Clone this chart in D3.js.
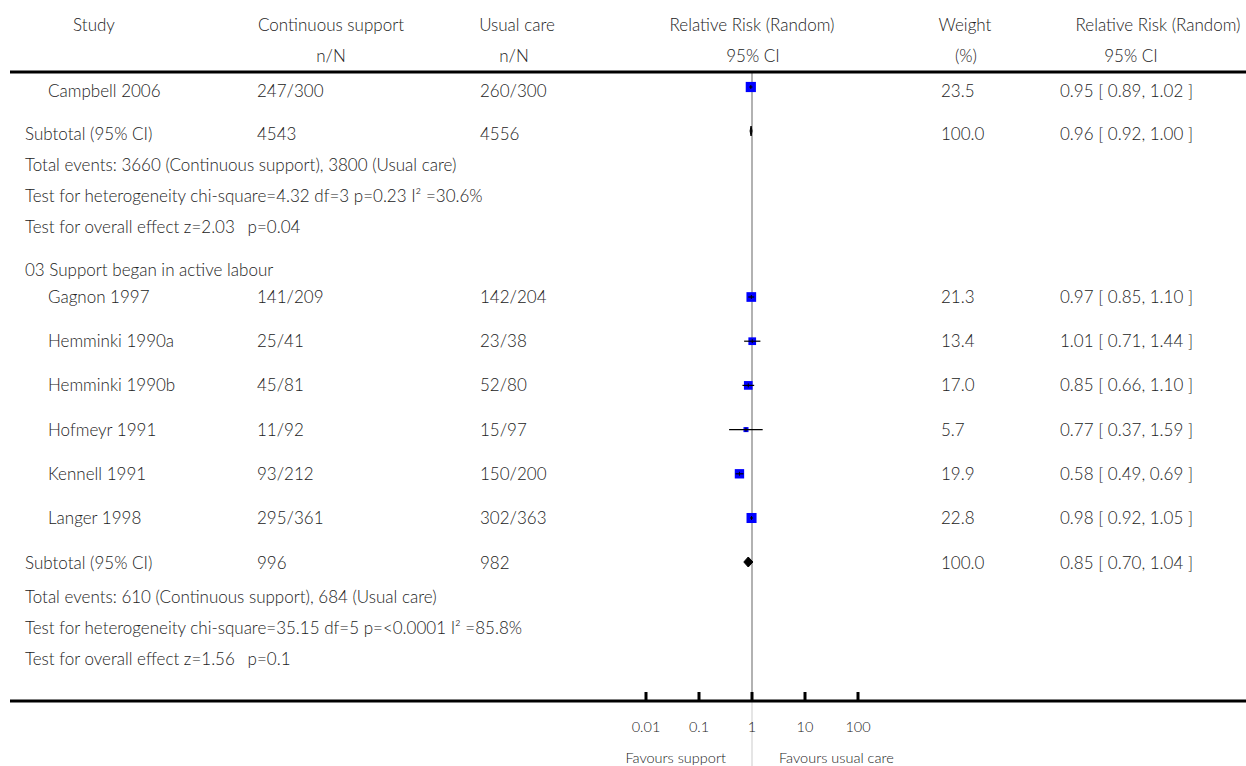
<!DOCTYPE html>
<html>
<head>
<meta charset="utf-8">
<script src="https://cdn.jsdelivr.net/npm/d3@7"></script>
<style>
  body { margin: 0; background: #fff; }
  svg text { font-family: Lato, "Open Sans", sans-serif; font-size: 17px; font-weight: 300; fill: #222; }
</style>
</head>
<body>
<div class="forest"></div>
<script>
// ---- data ----
var studies     = ["Gagnon 1997", "Hemminki 1990a", "Hemminki 1990b", "Hofmeyr 1991", "Kennell 1991", "Langer 1998"];
var supportNN   = ["141/209", "25/41", "45/81", "11/92", "93/212", "295/361"];
var careNN      = ["142/204", "23/38", "52/80", "15/97", "150/200", "302/363"];
var weights     = [21.3, 13.4, 17.0, 5.7, 19.9, 22.8];
var rr          = [0.97, 1.01, 0.85, 0.77, 0.58, 0.98];
var rrLow       = [0.85, 0.71, 0.66, 0.37, 0.49, 0.92];
var rrHigh      = [1.10, 1.44, 1.10, 1.59, 0.69, 1.05];

// tail of the previous subgroup shown at the top
var prevStudy   = {name: "Campbell 2006", support: "247/300", care: "260/300", w: 23.5, rr: 0.95, lo: 0.89, hi: 1.02};
var prevTotal   = {support: "4543", care: "4556", w: 100.0, rr: 0.96, lo: 0.92, hi: 1.00};
var prevNotes   = ["Total events: 3660 (Continuous support), 3800 (Usual care)",
                   "Test for heterogeneity chi-square=4.32 df=3 p=0.23 I\u00b2 =30.6%",
                   "Test for overall effect z=2.03\u2003p=0.04"];

var groupTitle  = "03 Support began in active labour";
var groupTotal  = {support: "996", care: "982", w: 100.0, rr: 0.85, lo: 0.70, hi: 1.04};
var groupNotes  = ["Total events: 610 (Continuous support), 684 (Usual care)",
                   "Test for heterogeneity chi-square=35.15 df=5 p=<0.0001 I\u00b2 =85.8%",
                   "Test for overall effect z=1.56\u2003p=0.1"];

var tickValues  = [0.01, 0.1, 1, 10, 100];
var tickLabels  = ["0.01", "0.1", "1", "10", "100"];

// ---- layout ----
var svgWidth = 1246, svgHeight = 766;
var col = { study: 48, sub: 25, support: 257, care: 480, weight: 941, ci: 1060 };

var svg = d3.select(".forest").append("svg")
  .attr("width", svgWidth)
  .attr("height", svgHeight);

var xScale = d3.scaleLog()
  .domain([0.01, 100])
  .range([646, 858]);

function fmt2(v) { return d3.format(".2f")(v); }
function ciText(d) { return fmt2(d.rr) + " [ " + fmt2(d.lo) + ", " + fmt2(d.hi) + " ]"; }

function txt(x, y, s, anchor) {
  return svg.append("text")
    .attr("x", x).attr("y", y)
    .attr("dy", "0.35em")
    .attr("text-anchor", anchor || "start")
    .text(s);
}

// header
[[94, "Study"], [331, "Continuous support"], [517, "Usual care"],
 [752, "Relative Risk (Random)"], [965, "Weight"], [1158, "Relative Risk (Random)"]]
  .forEach(function(h) { txt(h[0], 25, h[1], "middle"); });
[[331, "n/N"], [514, "n/N"], [753, "95% CI"], [966, "(%)"], [1131, "95% CI"]]
  .forEach(function(h) { txt(h[0], 56, h[1], "middle"); });

// reference line at RR = 1
svg.append("line")
  .attr("x1", xScale(1)).attr("x2", xScale(1))
  .attr("y1", 73).attr("y2", 701)
  .attr("stroke", "#999").attr("stroke-width", 1.5);
svg.append("line")
  .attr("x1", xScale(1)).attr("x2", xScale(1))
  .attr("y1", 701).attr("y2", 766)
  .attr("stroke", "#ddd").attr("stroke-width", 1.5);

// header rule
svg.append("line")
  .attr("x1", 10).attr("x2", svgWidth)
  .attr("y1", 72).attr("y2", 72)
  .attr("stroke", "#000").attr("stroke-width", 3);

var plotG = svg.append("g");

// one study row: text columns plus CI line and weighted square
function studyRow(y, d, markY) {
  markY = markY || y;
  txt(col.study, y, d.name);
  txt(col.support, y, d.support);
  txt(col.care, y, d.care);
  txt(col.weight, y, d3.format(".1f")(d.w));
  txt(col.ci, y, ciText(d));
  var s = 2.1 * Math.sqrt(d.w);
  plotG.append("rect")
    .attr("x", xScale(d.rr) - s / 2).attr("y", markY - s / 2)
    .attr("width", s).attr("height", s)
    .attr("fill", "#0000ff");
  plotG.append("line")
    .attr("x1", xScale(d.lo)).attr("x2", xScale(d.hi))
    .attr("y1", markY).attr("y2", markY)
    .attr("stroke", "#000").attr("stroke-width", 1.2);
  plotG.append("line")
    .attr("x1", xScale(d.rr)).attr("x2", xScale(d.rr))
    .attr("y1", markY - 2).attr("y2", markY + 2)
    .attr("stroke", "#000").attr("stroke-width", 1);
}

// subtotal row with diamond
function totalRow(y, d, markY) {
  markY = markY || y;
  txt(col.sub, y, "Subtotal (95% CI)");
  txt(col.support, y, d.support);
  txt(col.care, y, d.care);
  txt(col.weight, y, d3.format(".1f")(d.w));
  txt(col.ci, y, ciText(d));
  var x0 = xScale(d.lo), x1 = xScale(d.hi), xm = xScale(d.rr);
  plotG.append("path")
    .attr("d", "M" + x0 + "," + markY + "L" + xm + "," + (markY - 5) + "L" + x1 + "," + markY + "L" + xm + "," + (markY + 5) + "Z")
    .attr("fill", "#000").attr("stroke", "#000").attr("stroke-width", 1);
}

// previous subgroup tail
studyRow(91, prevStudy, 87);
totalRow(134, prevTotal, 131);
prevNotes.forEach(function(n, i) { txt(col.sub, 165 + i * 31, n); });

// current subgroup
txt(col.sub, 270, groupTitle);
studies.forEach(function(name, i) {
  studyRow(297 + i * 44.2, {name: name, support: supportNN[i], care: careNN[i],
    w: weights[i], rr: rr[i], lo: rrLow[i], hi: rrHigh[i]});
});
totalRow(563, groupTotal, 562);
groupNotes.forEach(function(n, i) { txt(col.sub, 597 + i * 31, n); });

// bottom axis
var axisY = 701;
svg.append("line")
  .attr("x1", 10).attr("x2", svgWidth)
  .attr("y1", axisY).attr("y2", axisY)
  .attr("stroke", "#000").attr("stroke-width", 3);

svg.selectAll(".tick")
  .data(tickValues)
  .enter()
  .append("line")
  .attr("class", "tick")
  .attr("x1", d => xScale(d)).attr("x2", d => xScale(d))
  .attr("y1", axisY - 9).attr("y2", axisY)
  .attr("stroke", "#000").attr("stroke-width", 3);

tickValues.forEach(function(v, i) {
  txt(xScale(v), 727, tickLabels[i], "middle").style("font-size", "14.5px");
});

txt(xScale(1) - 26, 758, "Favours support", "end").style("font-size", "14.5px");
txt(xScale(1) + 27, 758, "Favours usual care", "start").style("font-size", "14.5px");
</script>
</body>
</html>
